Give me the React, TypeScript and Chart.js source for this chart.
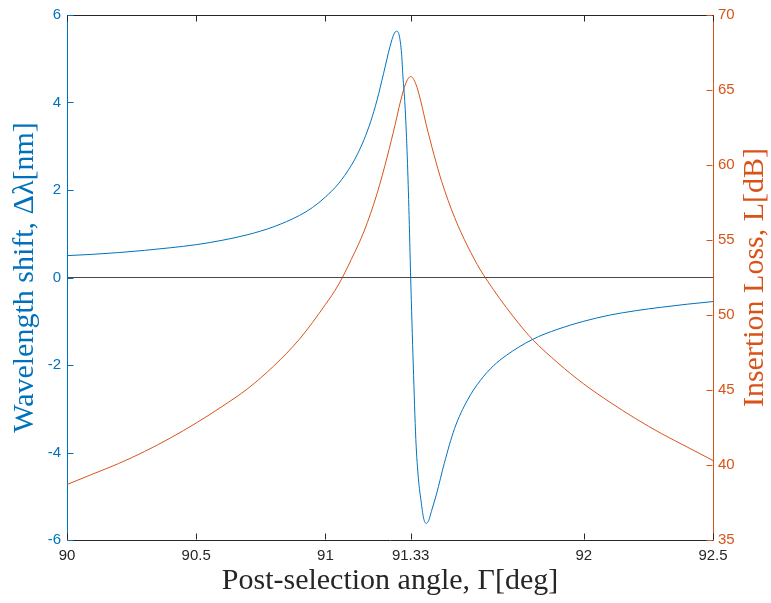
import React, { useEffect, useRef } from "react";
import { Chart, registerables } from "chart.js";

Chart.register(...registerables);

// Wavelength shift (left axis)
const shiftAngles = [
  90.0, 90.1, 90.2, 90.3, 90.4, 90.5, 90.6, 90.7, 90.8, 90.9, 90.95, 91.0, 91.05, 91.1, 91.125,
  91.15, 91.175, 91.2, 91.225, 91.25, 91.265, 91.275, 91.285, 91.295, 91.3, 91.308, 91.316,
  91.323, 91.33, 91.34, 91.35, 91.36, 91.37, 91.38, 91.39, 91.4, 91.41, 91.43, 91.46, 91.5,
  91.55, 91.6, 91.65, 91.7, 91.8, 91.9, 92.0, 92.1, 92.2, 92.3, 92.4, 92.5,
];
const shiftValues = [
  0.5, 0.53, 0.57, 0.62, 0.68, 0.75, 0.85, 0.98, 1.16, 1.42, 1.6, 1.84, 2.14, 2.56, 2.83,
  3.16, 3.56, 4.06, 4.66, 5.28, 5.56, 5.63, 5.55, 5.1, 4.6, 3.94, 2.9,
  1.6, 0.0, -2.0, -3.7, -4.6, -5.1, -5.5, -5.62, -5.55, -5.35, -4.95, -4.25, -3.45,
  -2.8, -2.35, -2.02, -1.78, -1.42, -1.18, -1.0, -0.86, -0.76, -0.68, -0.61, -0.55,
];

// Insertion loss (right axis)
const lossAngles = [
  90.0, 90.1, 90.2, 90.3, 90.4, 90.5, 90.6, 90.7, 90.8, 90.9, 91.0, 91.05, 91.1, 91.15, 91.2,
  91.24, 91.27, 91.29, 91.31, 91.33, 91.35, 91.37, 91.39, 91.42, 91.45, 91.5, 91.55, 91.6,
  91.65, 91.7, 91.75, 91.8, 91.9, 92.0, 92.1, 92.2, 92.3, 92.4, 92.5,
];
const lossValues = [
  38.7, 39.4, 40.1, 40.9, 41.8, 42.8, 43.9, 45.1, 46.6, 48.4, 50.7, 52.0, 53.7, 55.6, 58.1,
  60.6, 62.7, 64.2, 65.4, 65.9, 65.4, 64.2, 62.7, 60.7, 58.9, 56.5, 54.6, 53.0,
  51.7, 50.5, 49.4, 48.4, 46.8, 45.4, 44.2, 43.1, 42.1, 41.2, 40.3,
];

// Zero reference line
const zeroAngles = [90, 92.5];
const zeroValues = [0, 0];

const xTicks = [90, 90.5, 91, 91.33, 92, 92.5];
const leftTicks = [-6, -4, -2, 0, 2, 4, 6];
const rightTicks = [35, 40, 45, 50, 55, 60, 65, 70];

const xTitle = "Post-selection angle, \u0393[deg]";
const leftTitle = "Wavelength shift, \u0394\u03bb[nm]";
const rightTitle = "Insertion Loss, L[dB]";

const BLUE = "#0072BD";
const ORANGE = "#D95319";
const DARK = "#262626";
const ZERO = "#4a4a4a";
const TICK_FONT = { family: "'Liberation Sans', Arial, sans-serif", size: 15 };
const TITLE_FONT = "30px 'Liberation Serif', 'DejaVu Serif', serif";

const zip = (xs: number[], ys: number[]) => xs.map((x, i) => ({ x, y: ys[i] }));

const decorPlugin = {
  id: "decor",
  afterDraw(chart: any) {
    const { ctx, chartArea: ca, scales } = chart;
    const tl = 6;
    ctx.save();
    ctx.lineWidth = 1;
    const top = Math.round(ca.top) + 0.5;
    const bottom = Math.round(ca.bottom) - 0.5;
    const left = Math.round(ca.left) + 0.5;
    const right = Math.round(ca.right) - 0.5;

    // top border
    ctx.strokeStyle = DARK;
    ctx.beginPath();
    ctx.moveTo(ca.left, top);
    ctx.lineTo(ca.right, top);
    ctx.stroke();

    // x ticks inward (bottom and top)
    ctx.strokeStyle = DARK;
    ctx.beginPath();
    scales.x.ticks.forEach((t: any) => {
      const px = Math.round(scales.x.getPixelForValue(t.value)) + 0.5;
      ctx.moveTo(px, bottom);
      ctx.lineTo(px, bottom - tl);
      ctx.moveTo(px, top);
      ctx.lineTo(px, top + tl);
    });
    ctx.stroke();

    // left ticks
    ctx.strokeStyle = BLUE;
    ctx.beginPath();
    scales.y.ticks.forEach((t: any) => {
      const py = Math.round(scales.y.getPixelForValue(t.value)) + 0.5;
      ctx.moveTo(left, py);
      ctx.lineTo(left + tl, py);
    });
    ctx.stroke();

    // right ticks
    ctx.strokeStyle = ORANGE;
    ctx.beginPath();
    scales.y2.ticks.forEach((t: any) => {
      const py = Math.round(scales.y2.getPixelForValue(t.value)) + 0.5;
      ctx.moveTo(right, py);
      ctx.lineTo(right - tl, py);
    });
    ctx.stroke();

    // titles
    const cy = (ca.top + ca.bottom) / 2;
    const cx = (ca.left + ca.right) / 2;
    ctx.font = TITLE_FONT;
    ctx.textAlign = "center";

    ctx.fillStyle = DARK;
    ctx.textBaseline = "alphabetic";
    ctx.fillText(xTitle, cx, 589);

    ctx.textBaseline = "middle";
    ctx.fillStyle = BLUE;
    ctx.save();
    ctx.translate(25, cy);
    ctx.rotate(-Math.PI / 2);
    ctx.fillText(leftTitle, 0, 0);
    ctx.restore();

    ctx.fillStyle = ORANGE;
    ctx.save();
    ctx.translate(755, cy);
    ctx.rotate(-Math.PI / 2);
    ctx.fillText(rightTitle, 0, 0);
    ctx.restore();

    ctx.restore();
  },
};

export default function App() {
  const ref = useRef<HTMLCanvasElement | null>(null);

  useEffect(() => {
    if (!ref.current) return;
    const chart = new Chart(ref.current, {
      type: "line",
      data: {
        datasets: [
          {
            label: "zero",
            data: zip(zeroAngles, zeroValues),
            borderColor: ZERO,
            borderWidth: 1,
            pointRadius: 0,
            yAxisID: "y",
          },
          {
            label: "Wavelength shift",
            data: zip(shiftAngles, shiftValues),
            borderColor: BLUE,
            borderWidth: 1,
            pointRadius: 0,
            cubicInterpolationMode: "monotone",
            yAxisID: "y",
          },
          {
            label: "Insertion loss",
            data: zip(lossAngles, lossValues),
            borderColor: ORANGE,
            borderWidth: 1,
            pointRadius: 0,
            cubicInterpolationMode: "monotone",
            yAxisID: "y2",
          },
        ],
      },
      options: {
        animation: false,
        responsive: false,
        layout: { padding: { top: 9, left: 0, right: 0, bottom: 0 } },
        plugins: {
          legend: { display: false },
          tooltip: { enabled: false },
        },
        scales: {
          x: {
            type: "linear",
            position: "bottom",
            min: 90,
            max: 92.5,
            afterBuildTicks: (s: any) => {
              s.ticks = xTicks.map((v) => ({ value: v }));
            },
            afterFit: (s: any) => {
              s.height = 63;
            },
            grid: { display: false, drawTicks: false },
            border: { display: true, color: DARK, width: 1 },
            ticks: {
              color: DARK,
              font: TICK_FONT,
              padding: 7,
              maxRotation: 0,
              autoSkip: false,
              callback: (v: any) => String(v),
            },
          },
          y: {
            type: "linear",
            position: "left",
            min: -6,
            max: 6,
            afterBuildTicks: (s: any) => {
              s.ticks = leftTicks.map((v) => ({ value: v }));
            },
            afterFit: (s: any) => {
              s.width = 67;
            },
            grid: { display: false, drawTicks: false },
            border: { display: true, color: BLUE, width: 1 },
            ticks: {
              color: BLUE,
              font: TICK_FONT,
              padding: 6,
              callback: (v: any) => String(v),
            },
          },
          y2: {
            type: "linear",
            position: "right",
            min: 35,
            max: 70,
            afterBuildTicks: (s: any) => {
              s.ticks = rightTicks.map((v) => ({ value: v }));
            },
            afterFit: (s: any) => {
              s.width = 58;
            },
            grid: { display: false, drawTicks: false },
            border: { display: true, color: ORANGE, width: 1 },
            ticks: {
              color: ORANGE,
              font: TICK_FONT,
              padding: 5,
              callback: (v: any) => String(v),
            },
          },
        },
      },
      plugins: [decorPlugin],
    } as any);
    return () => chart.destroy();
  }, []);

  return (
    <div style={{ position: "fixed", left: 0, top: 0, width: 771, height: 603, background: "#fff" }}>
      <canvas ref={ref} width={771} height={603} style={{ display: "block" }} />
    </div>
  );
}
